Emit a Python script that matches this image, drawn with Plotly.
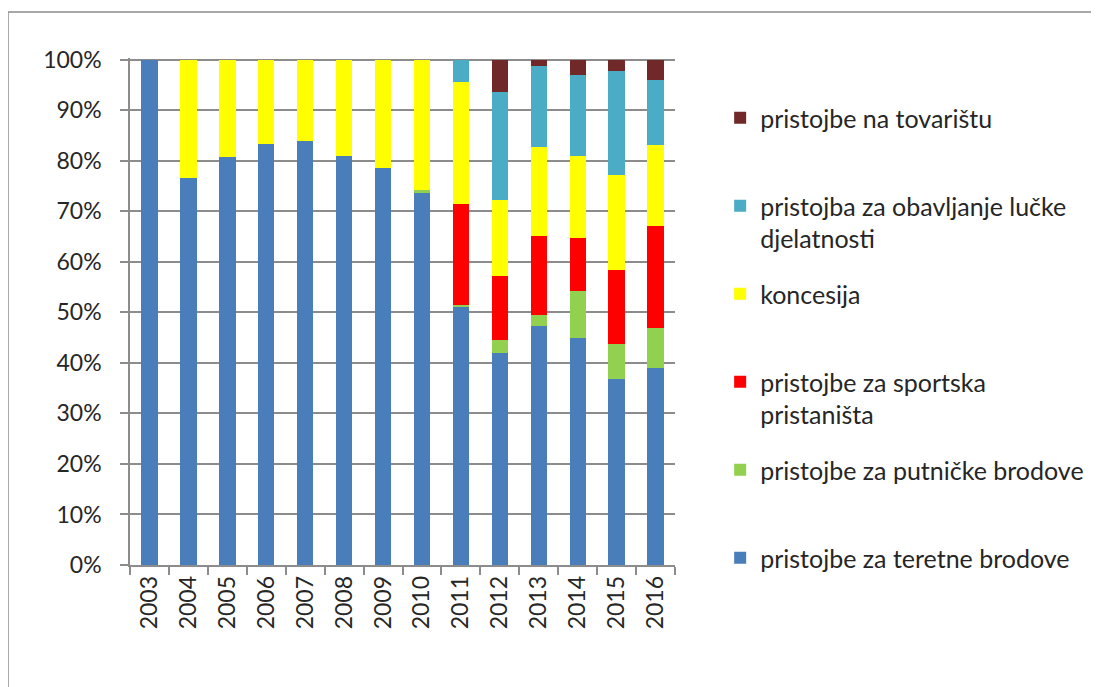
import plotly.graph_objects as go

years = ["2003", "2004", "2005", "2006", "2007", "2008", "2009", "2010",
         "2011", "2012", "2013", "2014", "2015", "2016"]

teretni = [100.0, 76.6, 80.8, 83.2, 83.8, 81.0, 78.6, 73.5, 51.0, 42.0, 47.3, 44.9, 36.8, 39.0]
putnicki = [0.0, 0.0, 0.0, 0.0, 0.0, 0.0, 0.0, 0.6, 0.4, 2.6, 2.2, 9.4, 7.0, 7.9]
sportska = [0.0, 0.0, 0.0, 0.0, 0.0, 0.0, 0.0, 0.0, 20.1, 12.5, 15.5, 10.4, 14.6, 20.1]
koncesija = [0.0, 23.4, 19.2, 16.8, 16.2, 19.0, 21.4, 25.9, 24.0, 15.2, 17.6, 16.2, 18.8, 16.0]
lucka = [0.0, 0.0, 0.0, 0.0, 0.0, 0.0, 0.0, 0.0, 4.5, 21.3, 16.1, 16.1, 20.5, 13.0]
tovariste = [0.0, 0.0, 0.0, 0.0, 0.0, 0.0, 0.0, 0.0, 0.0, 6.4, 1.3, 3.0, 2.3, 4.0]

series = [
    ("pristojbe za teretne brodove<br> ", teretni, "#4A7EBB"),
    ("pristojbe za putničke brodove<br> ", putnicki, "#92D050"),
    ("pristojbe za sportska<br>pristaništa", sportska, "#FF0000"),
    ("koncesija<br> ", koncesija, "#FFFF00"),
    ("pristojba za obavljanje lučke<br>djelatnosti", lucka, "#4BACC6"),
    ("pristojbe na tovarištu<br> ", tovariste, "#702828"),
]

y_ticks = [0, 10, 20, 30, 40, 50, 60, 70, 80, 90, 100]
y_labels = [f"{v}%" for v in y_ticks]

FONT = "Lato"
GRID = "#8C8C8C"
TXT = "#262626"

fig = go.Figure()
n = len(series)
for i, (name, vals, col) in enumerate(series):
    fig.add_trace(go.Bar(
        x=years, y=vals, name=name,
        marker=dict(color=col, line=dict(width=0)),
        width=0.42, legendgroup=f"g{i}", legendrank=n - i,
    ))

fig.update_layout(
    barmode="stack",
    width=1099, height=687,
    margin=dict(l=122, r=432, t=50, b=130),
    paper_bgcolor="white", plot_bgcolor="white",
    font=dict(family=FONT, color=TXT, size=22),
    showlegend=True,
    legend=dict(
        xref="container", yref="container",
        x=0.648, y=1 - 87 / 687, xanchor="left", yanchor="top",
        traceorder="grouped", valign="top",
        tracegroupgap=20, maxheight=620,
        font=dict(family=FONT, size=25, color=TXT),
        bgcolor="rgba(0,0,0,0)",
    ),
    xaxis=dict(
        type="category", range=[-0.5, 13.5],
        tickangle=-90, showgrid=False,
        showline=True, linecolor=GRID, linewidth=1.5,
        ticks="outside", ticklen=8, tickcolor=GRID, tickwidth=1.5,
        tickson="boundaries",
        tickfont=dict(family=FONT, size=23, color=TXT),
    ),
    yaxis=dict(
        range=[0, 100.3], tickvals=y_ticks, ticktext=y_labels,
        showgrid=True, gridcolor=GRID, gridwidth=1.5,
        showline=True, linecolor=GRID, linewidth=1.5,
        ticks="outside", ticklen=8, tickcolor=GRID, tickwidth=1.5,
        ticklabelstandoff=14,
        tickfont=dict(family=FONT, size=23, color=TXT),
        zeroline=False,
    ),
    shapes=[dict(
        type="rect", xref="paper", yref="paper",
        x0=-0.2239, x1=1.80, y0=-0.27, y1=1.0907,
        line=dict(color="#8C8C8C", width=1.5), fillcolor="rgba(0,0,0,0)",
        layer="below",
    )],
)

fig.write_html("out.html")
